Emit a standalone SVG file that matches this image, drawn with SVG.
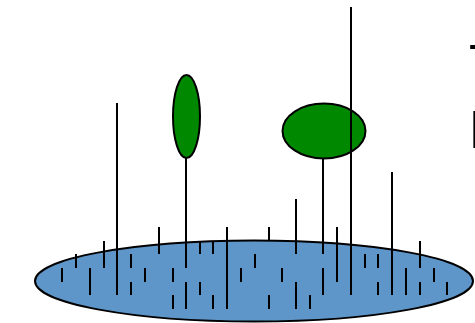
<svg xmlns="http://www.w3.org/2000/svg" width="475" height="323" viewBox="0 0 475 323">
<style>
.base{fill:#5f96c9;stroke:#000;stroke-width:2}
.leaf{fill:#008800;stroke:#000;stroke-width:2}
.ln line{stroke:#000;stroke-width:2}
.lbl{font-family:"Liberation Sans",Arial,sans-serif;font-size:53px;fill:#000}
</style>
<rect width="475" height="323" fill="#fff"/>
<g id="base"><ellipse class="base" cx="254" cy="281" rx="219" ry="40.5"/></g>
<g id="node-leaf1"><ellipse class="leaf" cx="186.5" cy="116.5" rx="13.5" ry="41.5"/></g>
<g id="node-leaf2"><ellipse class="leaf" cx="324" cy="131" rx="41.5" ry="27.5"/></g>
<g id="connectors" class="ln">
<line x1="62" y1="268" x2="62" y2="282"/>
<line x1="76" y1="254" x2="76" y2="268"/>
<line x1="90" y1="268" x2="90" y2="295"/>
<line x1="104" y1="241" x2="104" y2="268"/>
<line x1="117" y1="103" x2="117" y2="295"/>
<line x1="131" y1="254" x2="131" y2="268"/>
<line x1="131" y1="282" x2="131" y2="295"/>
<line x1="145" y1="268" x2="145" y2="282"/>
<line x1="159" y1="227" x2="159" y2="254"/>
<line x1="173" y1="268" x2="173" y2="282"/>
<line x1="173" y1="295" x2="173" y2="309"/>
<line x1="186" y1="158" x2="186" y2="268"/>
<line x1="186" y1="282" x2="186" y2="309"/>
<line x1="200" y1="241" x2="200" y2="254"/>
<line x1="200" y1="282" x2="200" y2="295"/>
<line x1="213" y1="241" x2="213" y2="254"/>
<line x1="213" y1="295" x2="213" y2="309"/>
<line x1="227" y1="227" x2="227" y2="309"/>
<line x1="241" y1="268" x2="241" y2="282"/>
<line x1="255" y1="254" x2="255" y2="268"/>
<line x1="269" y1="227" x2="269" y2="241"/>
<line x1="269" y1="295" x2="269" y2="309"/>
<line x1="282" y1="268" x2="282" y2="282"/>
<line x1="296" y1="199" x2="296" y2="254"/>
<line x1="296" y1="282" x2="296" y2="309"/>
<line x1="310" y1="295" x2="310" y2="309"/>
<line x1="323" y1="159" x2="323" y2="254"/>
<line x1="323" y1="268" x2="323" y2="295"/>
<line x1="337" y1="227" x2="337" y2="282"/>
<line x1="351" y1="7" x2="351" y2="295"/>
<line x1="365" y1="254" x2="365" y2="268"/>
<line x1="378" y1="254" x2="378" y2="268"/>
<line x1="378" y1="282" x2="378" y2="295"/>
<line x1="392" y1="172" x2="392" y2="295"/>
<line x1="406" y1="268" x2="406" y2="295"/>
<line x1="420" y1="241" x2="420" y2="268"/>
<line x1="420" y1="282" x2="420" y2="295"/>
<line x1="434" y1="268" x2="434" y2="282"/>
<line x1="447" y1="282" x2="447" y2="295"/>
</g>
<g id="labels">
<text class="lbl" x="469" y="82">T</text>
<text class="lbl" x="469" y="148">P</text>
</g>
</svg>
